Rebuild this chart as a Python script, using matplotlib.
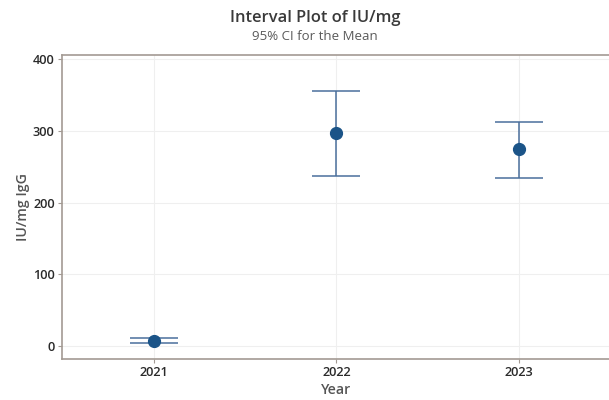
import numpy as np
import matplotlib.pyplot as plt

years = ['2021', '2022', '2023']
means = [7.5, 297, 275]
ci_low = [4.5, 237, 235]
ci_high = [10.5, 356, 313]

plt.rcParams['font.family'] = ['Open Sans', 'DejaVu Sans']

fig = plt.figure(figsize=(6.09, 4.00), dpi=100)
ax = fig.add_axes([0.1023, 0.1033, 0.9, 0.76])

x = np.arange(1, len(years) + 1)
m = np.array(means)
lo = m - np.array(ci_low)
hi = np.array(ci_high) - m

ax.errorbar(x, m, yerr=[lo, hi], fmt='none', ecolor='#4a6f9c', elinewidth=1.1,
            capsize=17.5, capthick=1.1, zorder=3)
ax.plot(x, m, 'o', color='#1b5488', markersize=8.5, zorder=4)

ax.set_xlim(0.5, 3.5)
ax.set_ylim(-17.7, 406.7)
ax.set_xticks(x)
ax.set_xticklabels(years)
ax.set_yticks([0, 100, 200, 300, 400])

ax.grid(True, color='#efefef', linewidth=0.8)
ax.set_axisbelow(True)
for s in ['left', 'bottom', 'top', 'right']:
    ax.spines[s].set_color('#a39a93')
    ax.spines[s].set_linewidth(1.2)

ax.tick_params(axis='both', colors='#a39a93', length=3, width=0.8,
               labelcolor='#2a2a2a', labelsize=9.2, pad=2.5)
for lab in ax.get_xticklabels() + ax.get_yticklabels():
    lab.set_fontweight('semibold')

ax.set_xlabel('Year', fontsize=10.2, fontweight='semibold', color='#555555', labelpad=3)
ax.set_ylabel('IU/mg IgG', fontsize=10.2, fontweight='semibold', color='#555555', labelpad=2)

fig.text(0.517, 0.945, 'Interval Plot of IU/mg', ha='center', va='baseline',
         fontsize=11.9, fontweight='semibold', color='#3a3a3a')
fig.text(0.517, 0.899, '95% CI for the Mean', ha='center', va='baseline',
         fontsize=9.5, color='#5a5a5a')

plt.savefig('out.png', dpi=100)
plt.close()
